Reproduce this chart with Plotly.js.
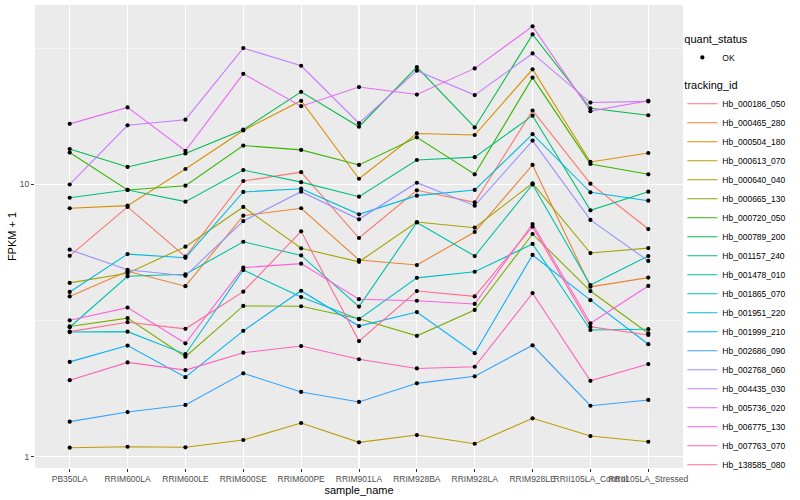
<!DOCTYPE html>
<html>
<head>
<meta charset="utf-8">
<script src="https://cdn.plot.ly/plotly-3.0.1.min.js"></script>
<style>html,body{margin:0;padding:0;background:#fff;}#chart{width:800px;height:500px;}</style>
</head>
<body>
<div id="chart"></div>
<script>
const categories = ['PB350LA','RRIM600LA','RRIM600LE','RRIM600SE','RRIM600PE','RRIM901LA','RRIM928BA','RRIM928LA','RRIM928LE','RRII105LA_Control','RRII105LA_Stressed'];

const Hb_000186_050 = [5.47, 8.27, 5.43, 10.3, 11.1, 6.36, 9.52, 8.60, 18.7, 10.07, 6.86];
const Hb_000465_280 = [3.88, 4.80, 4.23, 7.68, 8.18, 5.28, 5.06, 6.69, 11.8, 4.21, 4.55];
const Hb_000504_180 = [8.18, 8.36, 11.4, 15.8, 20.3, 10.5, 15.4, 15.2, 26.5, 12.1, 13.05];
const Hb_000613_070 = [1.079, 1.088, 1.083, 1.152, 1.33, 1.129, 1.201, 1.116, 1.384, 1.191, 1.135];
const Hb_000640_040 = [4.35, 4.72, 5.91, 8.27, 5.83, 5.20, 7.28, 6.94, 10.1, 5.60, 5.84];
const Hb_000665_130 = [3.01, 3.23, 2.33, 3.58, 3.57, 3.21, 2.78, 3.46, 6.58, 4.06, 2.84];
const Hb_000720_050 = [13.1, 9.55, 9.90, 13.9, 13.4, 11.8, 14.9, 10.9, 24.7, 11.9, 10.9];
const Hb_000789_200 = [13.5, 11.6, 13.0, 15.9, 21.9, 16.3, 27.0, 16.2, 35.6, 19.05, 17.96];
const Hb_001157_240 = [8.94, 9.55, 8.65, 11.3, 10.2, 9.02, 12.3, 12.6, 17.9, 8.04, 9.41];
const Hb_001478_010 = [2.99, 4.60, 4.68, 6.16, 5.49, 3.56, 7.25, 5.46, 10.0, 4.27, 5.46];
const Hb_001865_070 = [2.87, 2.88, 2.38, 4.85, 3.86, 3.20, 4.54, 4.78, 6.05, 2.92, 2.94];
const Hb_001951_220 = [4.03, 5.55, 5.38, 9.39, 9.65, 7.77, 9.10, 9.55, 15.3, 9.36, 8.72];
const Hb_001999_210 = [2.23, 2.56, 1.96, 2.90, 4.07, 3.02, 3.40, 2.40, 5.51, 3.76, 2.59];
const Hb_002686_090 = [1.345, 1.459, 1.549, 2.025, 1.729, 1.589, 1.86, 1.974, 2.566, 1.539, 1.616];
const Hb_002768_060 = [5.76, 4.86, 4.62, 7.34, 9.41, 7.45, 10.15, 8.36, 14.5, 7.41, 5.24];
const Hb_004435_030 = [10.0, 16.5, 17.3, 31.7, 27.3, 16.8, 26.2, 21.3, 30.3, 20.0, 20.2];
const Hb_005736_020 = [16.7, 19.2, 13.3, 25.5, 19.4, 22.8, 21.4, 26.7, 38.1, 18.6, 20.3];
const Hb_006775_130 = [3.17, 3.53, 2.61, 4.95, 5.12, 3.79, 3.74, 3.64, 7.16, 3.09, 4.24];
const Hb_007763_070 = [1.91, 2.22, 2.08, 2.41, 2.55, 2.28, 2.11, 2.14, 3.99, 1.90, 2.19];
const Hb_138585_080 = [2.88, 3.12, 2.95, 4.04, 6.73, 2.66, 4.06, 3.88, 7.00, 3.00, 2.80];

const trackingIds = ['Hb_000186_050','Hb_000465_280','Hb_000504_180','Hb_000613_070','Hb_000640_040','Hb_000665_130','Hb_000720_050','Hb_000789_200','Hb_001157_240','Hb_001478_010','Hb_001865_070','Hb_001951_220','Hb_001999_210','Hb_002686_090','Hb_002768_060','Hb_004435_030','Hb_005736_020','Hb_006775_130','Hb_007763_070','Hb_138585_080'];
const seriesValues = [Hb_000186_050, Hb_000465_280, Hb_000504_180, Hb_000613_070, Hb_000640_040, Hb_000665_130, Hb_000720_050, Hb_000789_200, Hb_001157_240, Hb_001478_010, Hb_001865_070, Hb_001951_220, Hb_001999_210, Hb_002686_090, Hb_002768_060, Hb_004435_030, Hb_005736_020, Hb_006775_130, Hb_007763_070, Hb_138585_080];
const seriesColors = ['#F8766D','#EA8331','#D89000','#C09B00','#A3A500','#7CAE00','#39B600','#00BB4E','#00BF7D','#00C1A3','#00BFC4','#00BAE0','#00B0F6','#35A2FF','#9590FF','#C77CFF','#E76BF3','#FA62DB','#FF62BC','#FF6C91'];
const statusLabel = 'OK';
const yTickVals = [1, 10];
const yMinorVals = [3.1623, 31.623];

const FONT = 'Liberation Sans, Arial, sans-serif';

const traces = trackingIds.map((id, i) => ({
  type: 'scatter', mode: 'lines', name: id,
  x: categories, y: seriesValues[i],
  line: {color: seriesColors[i], width: 1.1},
  legend: 'legend2', hoverinfo: 'skip'
}));

traces.push({
  type: 'scatter', mode: 'markers', name: statusLabel,
  x: seriesValues.flatMap(() => categories),
  y: seriesValues.flatMap(v => v),
  marker: {color: '#000000', size: 4.2, symbol: 'circle'},
  legend: 'legend'
});

const layout = {
  width: 800, height: 500,
  margin: {l: 35, r: 117, t: 5, b: 32},
  paper_bgcolor: '#FFFFFF',
  plot_bgcolor: '#EBEBEB',
  font: {family: FONT, color: '#000000'},
  showlegend: true,
  xaxis: {
    type: 'category',
    range: [-0.6, 10.6],
    showgrid: true, gridcolor: '#FFFFFF', gridwidth: 1.1,
    zeroline: false, showline: false,
    ticks: 'outside', ticklen: 3, tickcolor: '#333333', tickwidth: 1,
    tickfont: {family: FONT, size: 8.5, color: '#4D4D4D'},
    tickangle: 0,
    title: {text: 'sample_name', font: {family: FONT, size: 11, color: '#000000'}, standoff: 2},
    automargin: false
  },
  yaxis: {
    type: 'log',
    range: [-0.0415, 1.6594],
    tickmode: 'array', tickvals: yTickVals, ticktext: ['1', '10'],
    showgrid: true, gridcolor: '#FFFFFF', gridwidth: 1.1,
    minor: {tickmode: 'array', tickvals: yMinorVals, showgrid: true, gridcolor: '#FFFFFF', gridwidth: 0.5, ticks: ''},
    zeroline: false, showline: false,
    ticks: 'outside', ticklen: 3, tickcolor: '#333333', tickwidth: 1,
    tickfont: {family: FONT, size: 8.5, color: '#4D4D4D'},
    title: {text: 'FPKM + 1', font: {family: FONT, size: 11, color: '#000000'}, standoff: 0},
    automargin: false
  },
  legend: {
    x: 0.999, xanchor: 'left', y: 0.949, yanchor: 'top',
    title: {text: 'quant_status', font: {family: FONT, size: 11, color: '#000000'}},
    font: {family: FONT, size: 8.5, color: '#000000'},
    bgcolor: 'rgba(0,0,0,0)', itemwidth: 30, tracegroupgap: 0
  },
  legend2: {
    x: 0.999, xanchor: 'left', y: 0.849, yanchor: 'top',
    title: {text: 'tracking_id', font: {family: FONT, size: 11, color: '#000000'}},
    font: {family: FONT, size: 8.5, color: '#000000'},
    bgcolor: 'rgba(0,0,0,0)', itemwidth: 30, tracegroupgap: 0
  }
};

Plotly.newPlot('chart', traces, layout, {displayModeBar: false, staticPlot: true});
</script>
</body>
</html>
